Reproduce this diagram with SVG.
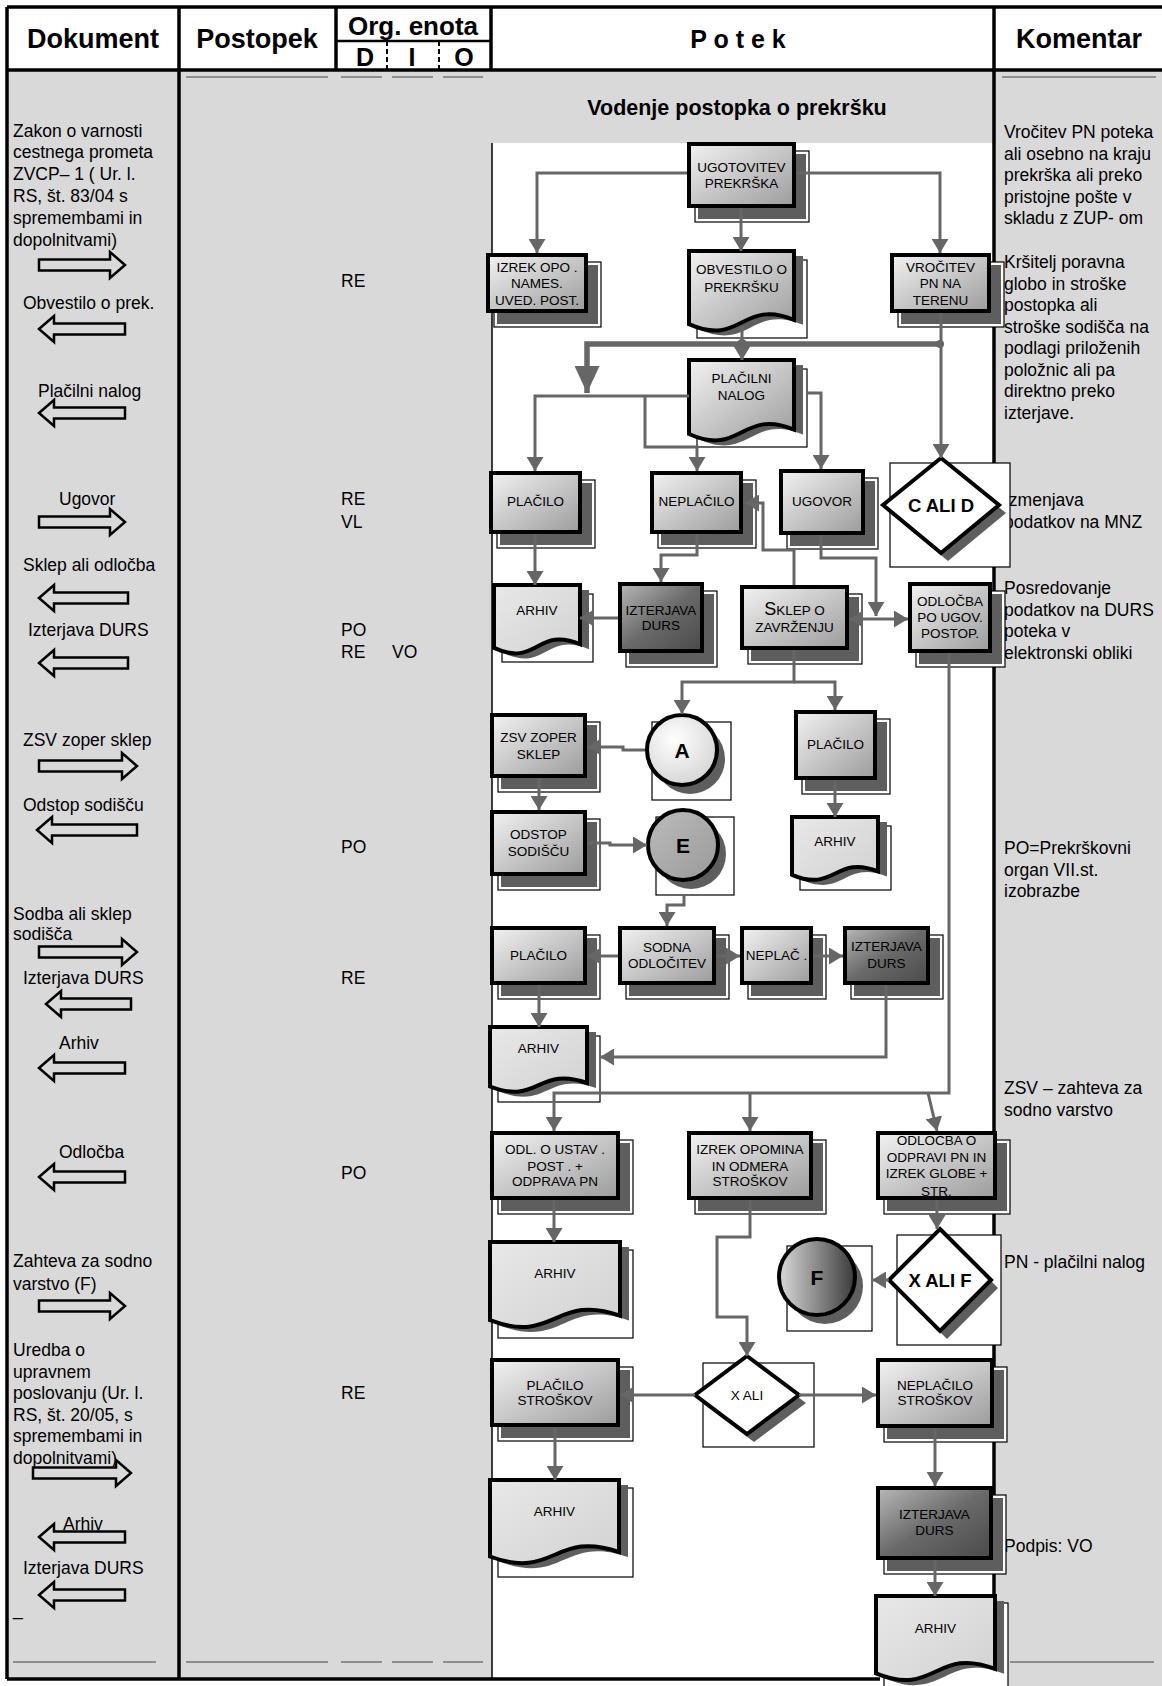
<svg xmlns="http://www.w3.org/2000/svg" width="1162" height="1686" viewBox="0 0 1162 1686">
<defs>
<style>
text{font-family:"Liberation Sans",Arial,sans-serif;fill:#000}
.h{font-size:27px;font-weight:bold;text-anchor:middle}
.t{font-size:17.5px}
.nt{font-size:13.5px;text-anchor:middle}
.nb{font-weight:bold;text-anchor:middle}
.bd{stroke:#000;stroke-width:3.5;fill:none}
.dl{stroke:#444;stroke-width:1.2}
.ha{fill:none;stroke:#000;stroke-width:2.5}
.shf{fill:#fff;stroke:#000;stroke-width:1.2}
.sh{fill:#5e5e5e}
.box{fill:url(#g1);stroke:#000;stroke-width:4}
.dk{fill:url(#g2);stroke:#000;stroke-width:4}
.arh{fill:url(#g3);stroke:#000;stroke-width:4}
.dia{fill:#fff;stroke:#000;stroke-width:4}
.c{fill:none;stroke:#666;stroke-width:3;marker-end:url(#m)}
</style>
<linearGradient id="g1" x1="0" y1="0" x2="1" y2="1"><stop offset="0" stop-color="#f2f2f2"/><stop offset="1" stop-color="#9c9c9c"/></linearGradient>
<linearGradient id="g2" x1="0" y1="0" x2="1" y2="1"><stop offset="0" stop-color="#b8b8b8"/><stop offset="0.5" stop-color="#6a6a6a"/><stop offset="1" stop-color="#4a4a4a"/></linearGradient>
<linearGradient id="g3" x1="0" y1="0" x2="1" y2="1"><stop offset="0" stop-color="#e8e8e8"/><stop offset="1" stop-color="#d2d2d2"/></linearGradient>
<radialGradient id="gA" cx="0.4" cy="0.35" r="0.7"><stop offset="0" stop-color="#ffffff"/><stop offset="1" stop-color="#d4d4d4"/></radialGradient>
<linearGradient id="gE" x1="0" y1="0" x2="1" y2="1"><stop offset="0" stop-color="#bcbcbc"/><stop offset="1" stop-color="#999"/></linearGradient>
<linearGradient id="gF" x1="0" y1="0" x2="1" y2="0"><stop offset="0" stop-color="#dadada"/><stop offset="1" stop-color="#3a3a3a"/></linearGradient>
<marker id="m" viewBox="0 0 14 17" refX="14" refY="8.5" markerWidth="14" markerHeight="17" markerUnits="userSpaceOnUse" orient="auto"><path d="M0,0L14,8.5L0,17Z" fill="#666"/></marker>
<marker id="mb" viewBox="0 0 27 25" refX="27" refY="12.5" markerWidth="27" markerHeight="25" markerUnits="userSpaceOnUse" orient="auto"><path d="M0,0L27,12.5L0,25Z" fill="#666"/></marker>
</defs>

<g id="background">
<rect x="0" y="0" width="1162" height="1686" fill="#fff"/>
<rect x="7" y="70" width="172" height="1609" fill="#d9d9d9"/>
<rect x="179" y="70" width="313" height="1609" fill="#d9d9d9"/>
<rect x="492" y="70" width="502" height="73" fill="#d9d9d9"/>
<rect x="994" y="70" width="168" height="1616" fill="#d9d9d9"/>
<rect x="492" y="143" width="502" height="1536" fill="#fff"/>
<line x1="492" y1="143" x2="492" y2="1679" stroke="#000" stroke-width="1.5"/>
<line class="bd" x1="7" y1="7" x2="1162" y2="7"/>
<line class="bd" x1="7" y1="70" x2="1162" y2="70" stroke-width="3"/>
<line class="bd" x1="7" y1="7" x2="7" y2="1679"/>
<line class="bd" x1="179" y1="7" x2="179" y2="1679"/>
<line class="bd" x1="336" y1="7" x2="336" y2="70"/>
<line class="bd" x1="491" y1="7" x2="491" y2="70"/>
<line class="bd" x1="994" y1="7" x2="994" y2="1600"/>
<line class="bd" x1="7" y1="1679" x2="880" y2="1679"/>
<line x1="336" y1="41" x2="491" y2="41" stroke="#000" stroke-width="2.5"/>
<line x1="387" y1="41" x2="387" y2="70" stroke="#000" stroke-width="2" stroke-dasharray="5 3"/>
<line x1="439" y1="41" x2="439" y2="70" stroke="#000" stroke-width="2" stroke-dasharray="5 3"/>
<line class="dl" x1="186" y1="77" x2="328" y2="77"/>
<line class="dl" x1="341" y1="77" x2="382" y2="77"/>
<line class="dl" x1="392" y1="77" x2="433" y2="77"/>
<line class="dl" x1="443" y1="77" x2="483" y2="77"/>
<line class="dl" x1="1002" y1="77" x2="1156" y2="77"/>
<line class="dl" x1="13" y1="1662" x2="156" y2="1662"/>
<line class="dl" x1="186" y1="1662" x2="328" y2="1662"/>
<line class="dl" x1="341" y1="1662" x2="382" y2="1662"/>
<line class="dl" x1="392" y1="1662" x2="433" y2="1662"/>
<line class="dl" x1="443" y1="1662" x2="483" y2="1662"/>
<line class="dl" x1="1010" y1="1662" x2="1154" y2="1662"/>
</g>

<g id="header">
<text class="h" x="93" y="48">Dokument</text>
<text class="h" x="257" y="48">Postopek</text>
<text class="h" x="413" y="35" style="font-size:26px">Org. enota</text>
<text class="h" x="365" y="66" style="font-size:25px">D</text>
<text class="h" x="412" y="66" style="font-size:25px">I</text>
<text class="h" x="464" y="66" style="font-size:25px">O</text>
<text class="h" x="738" y="48" style="font-size:25px">P o t e k</text>
<text class="h" x="1079" y="48">Komentar</text>
<text class="h" x="737" y="115" style="font-size:21.5px">Vodenje postopka o prekršku</text>
</g>

<g id="dokument-column">
<text class="t" x="13" y="136.5">Zakon o varnosti</text>
<text class="t" x="13" y="158.3">cestnega prometa</text>
<text class="t" x="13" y="180.1">ZVCP– 1 ( Ur. l.</text>
<text class="t" x="13" y="201.9">RS, št. 83/04 s</text>
<text class="t" x="13" y="223.7">spremembami in</text>
<text class="t" x="13" y="245.5">dopolnitvami)</text>
<text class="t" x="23" y="309">Obvestilo o prek.</text>
<text class="t" x="38" y="397">Plačilni nalog</text>
<text class="t" x="59" y="505">Ugovor</text>
<text class="t" x="23" y="571">Sklep ali odločba</text>
<text class="t" x="28" y="636">Izterjava DURS</text>
<text class="t" x="23" y="746">ZSV zoper sklep</text>
<text class="t" x="23" y="811">Odstop sodišču</text>
<text class="t" x="13" y="920">Sodba ali sklep</text>
<text class="t" x="13" y="940">sodišča</text>
<text class="t" x="23" y="984">Izterjava DURS</text>
<text class="t" x="59" y="1049">Arhiv</text>
<text class="t" x="59" y="1158">Odločba</text>
<text class="t" x="13" y="1267">Zahteva za sodno</text>
<text class="t" x="13" y="1290">varstvo (F)</text>
<text class="t" x="13" y="1356">Uredba o</text>
<text class="t" x="13" y="1377.6">upravnem</text>
<text class="t" x="13" y="1399.2">poslovanju (Ur. l.</text>
<text class="t" x="13" y="1420.8">RS, št. 20/05, s</text>
<text class="t" x="13" y="1442.4">spremembami in</text>
<text class="t" x="13" y="1464">dopolnitvami)</text>
<text class="t" x="63" y="1530">Arhiv</text>
<text class="t" x="23" y="1574">Izterjava DURS</text>
<text class="t" x="13" y="1615">_</text>
<path class="ha" d="M39,259.5H110V252L125,265L110,278V270.5H39Z"/>
<path class="ha" d="M39,329L54,316V323.5H125V334.5H54V342Z"/>
<path class="ha" d="M39,413L54,400V407.5H125V418.5H54V426Z"/>
<path class="ha" d="M39,516.5H110V509L125,522L110,535V527.5H39Z"/>
<path class="ha" d="M39,598L54,585V592.5H128V603.5H54V611Z"/>
<path class="ha" d="M39,663L54,650V657.5H128V668.5H54V676Z"/>
<path class="ha" d="M39,760.5H122V753L137,766L122,779V771.5H39Z"/>
<path class="ha" d="M37,830L52,817V824.5H137V835.5H52V843Z"/>
<path class="ha" d="M39,946.5H122V939L137,952L122,965V957.5H39Z"/>
<path class="ha" d="M46,1004L61,991V998.5H131V1009.5H61V1017Z"/>
<path class="ha" d="M39,1068L54,1055V1062.5H125V1073.5H54V1081Z"/>
<path class="ha" d="M39,1177L54,1164V1171.5H125V1182.5H54V1190Z"/>
<path class="ha" d="M39,1300.5H110V1293L125,1306L110,1319V1311.5H39Z"/>
<path class="ha" d="M33,1467.5H116V1460L131,1473L116,1486V1478.5H33Z"/>
<path class="ha" d="M39,1537L54,1524V1531.5H125V1542.5H54V1550Z"/>
<path class="ha" d="M39,1595L54,1582V1589.5H125V1600.5H54V1608Z"/>
</g>

<g id="postopek-column">
<text class="t" x="341" y="287">RE</text>
<text class="t" x="341" y="505">RE</text>
<text class="t" x="341" y="528">VL</text>
<text class="t" x="341" y="636">PO</text>
<text class="t" x="341" y="658">RE</text>
<text class="t" x="392" y="658">VO</text>
<text class="t" x="341" y="853">PO</text>
<text class="t" x="341" y="984">RE</text>
<text class="t" x="341" y="1179">PO</text>
<text class="t" x="341" y="1399">RE</text>
</g>

<g id="komentar-column">
<text class="t" x="1004" y="138">Vročitev PN poteka</text>
<text class="t" x="1004" y="159.5">ali osebno na kraju</text>
<text class="t" x="1004" y="181">prekrška ali preko</text>
<text class="t" x="1004" y="202.5">pristojne pošte v</text>
<text class="t" x="1004" y="224">skladu z ZUP- om</text>
<text class="t" x="1004" y="268">Kršitelj poravna</text>
<text class="t" x="1004" y="289.5">globo in stroške</text>
<text class="t" x="1004" y="311">postopka ali</text>
<text class="t" x="1004" y="332.5">stroške sodišča na</text>
<text class="t" x="1004" y="354">podlagi priloženih</text>
<text class="t" x="1004" y="375.5">položnic ali pa</text>
<text class="t" x="1004" y="397">direktno preko</text>
<text class="t" x="1004" y="418.5">izterjave.</text>
<text class="t" x="1004" y="506">Izmenjava</text>
<text class="t" x="1004" y="527.5">podatkov na MNZ</text>
<text class="t" x="1004" y="594">Posredovanje</text>
<text class="t" x="1004" y="615.5">podatkov na DURS</text>
<text class="t" x="1004" y="637">poteka v</text>
<text class="t" x="1004" y="658.5">elektronski obliki</text>
<text class="t" x="1004" y="854">PO=Prekrškovni</text>
<text class="t" x="1004" y="875.5">organ VII.st.</text>
<text class="t" x="1004" y="897">izobrazbe</text>
<text class="t" x="1004" y="1094">ZSV – zahteva za</text>
<text class="t" x="1004" y="1115.5">sodno varstvo</text>
<text class="t" x="1004" y="1268">PN - plačilni nalog</text>
<text class="t" x="1004" y="1552">Podpis: VO</text>
</g>

<g id="n-ugotovitev"><rect class="shf" x="695" y="151" width="114" height="71"/><rect class="sh" x="698" y="154" width="108" height="65"/><rect class="box" x="689" y="144" width="105" height="62"/><text class="nt" x="741.5" y="172">UGOTOVITEV</text><text class="nt" x="741.5" y="188">PREKRŠKA</text></g>
<g id="n-izrek-opo"><rect class="shf" x="494" y="262" width="107" height="65"/><rect class="sh" x="497" y="265" width="101" height="59"/><rect class="box" x="488" y="255" width="98" height="56"/><text class="nt" x="537" y="272">IZREK OPO .</text><text class="nt" x="537" y="288">NAMES.</text><text class="nt" x="537" y="305">UVED. POST.</text></g>
<g id="n-obvestilo"><rect class="shf" x="697" y="260" width="110" height="78"/><path class="sh" transform="translate(9,5)" d="M689,251H794V319.8C741.5,298.3 741.5,347.3 689,324.1Z"/><path class="box" d="M689,251H794V319.8C741.5,298.3 741.5,347.3 689,324.1Z"/><text class="nt" x="741.5" y="274">OBVESTILO O</text><text class="nt" x="741.5" y="292">PREKRŠKU</text></g>
<g id="n-vrocitev"><rect class="shf" x="898" y="262" width="106" height="65"/><rect class="sh" x="901" y="265" width="100" height="59"/><rect class="box" x="892" y="255" width="97" height="56"/><text class="nt" x="940.5" y="272">VROČITEV</text><text class="nt" x="940.5" y="288">PN NA</text><text class="nt" x="940.5" y="305">TERENU</text></g>
<g id="n-placilni-nalog"><rect class="shf" x="697" y="369" width="110" height="78"/><path class="sh" transform="translate(9,5)" d="M689,360H794V429.6C741.5,407.9 741.5,457.4 689,434Z"/><path class="box" d="M689,360H794V429.6C741.5,407.9 741.5,457.4 689,434Z"/><text class="nt" x="741.5" y="383">PLAČILNI</text><text class="nt" x="741.5" y="400">NALOG</text></g>
<g id="n-placilo-1"><rect class="shf" x="497" y="480" width="98" height="68"/><rect class="sh" x="500" y="483" width="92" height="62"/><rect class="box" x="491" y="473" width="89" height="59"/><text class="nt" x="535.5" y="506">PLAČILO</text></g>
<g id="n-neplacilo-1"><rect class="shf" x="658" y="480" width="98" height="68"/><rect class="sh" x="661" y="483" width="92" height="62"/><rect class="box" x="652" y="473" width="89" height="59"/><text class="nt" x="696.5" y="506">NEPLAČILO</text></g>
<g id="n-ugovor"><rect class="shf" x="787" y="478" width="91" height="71"/><rect class="sh" x="790" y="481" width="85" height="65"/><rect class="box" x="781" y="471" width="82" height="62"/><text class="nt" x="822" y="506">UGOVOR</text></g>
<g id="n-c-ali-d"><rect class="shf" x="890" y="463" width="120" height="104"/><polygon class="sh" points="948,466 1006,513 948,561 890,513"/><polygon class="dia" points="941,458 999,505 941,553 883,505"/><text class="nb" x="941" y="511.5" style="font-size:18.5px">C ALI D</text></g>
<g id="n-arhiv-1"><rect class="shf" x="502" y="594" width="91" height="68"/><path class="sh" transform="translate(9,5)" d="M494,585H580V644.2C537,625.7 537,667.9 494,647.9Z"/><path class="arh" d="M494,585H580V644.2C537,625.7 537,667.9 494,647.9Z"/><text class="nt" x="537" y="615">ARHIV</text></g>
<g id="n-izterjava-1"><rect class="shf" x="626" y="591" width="91" height="76"/><rect class="sh" x="629" y="594" width="85" height="70"/><rect class="dk" x="620" y="584" width="82" height="67"/><text class="nt" x="661" y="615">IZTERJAVA</text><text class="nt" x="661" y="630">DURS</text></g>
<g id="n-sklep"><rect class="shf" x="748" y="594" width="114" height="70"/><rect class="sh" x="751" y="597" width="108" height="64"/><rect class="box" x="742" y="587" width="105" height="61"/><text class="nt" x="794.5" y="615"><tspan font-size="18">S</tspan>KLEP O</text><text class="nt" x="794.5" y="632">ZAVRŽENJU</text></g>
<g id="n-odlocba-ugov"><rect class="shf" x="916" y="591" width="89" height="76"/><rect class="sh" x="919" y="594" width="83" height="70"/><rect class="box" x="910" y="584" width="80" height="67"/><text class="nt" x="950" y="606">ODLOČBA</text><text class="nt" x="950" y="622">PO UGOV.</text><text class="nt" x="950" y="638">POSTOP.</text></g>
<g id="n-zsv"><rect class="shf" x="498" y="722" width="102" height="70"/><rect class="sh" x="501" y="725" width="96" height="64"/><rect class="box" x="492" y="715" width="93" height="61"/><text class="nt" x="538.5" y="742">ZSV ZOPER</text><text class="nt" x="538.5" y="759">SKLEP</text></g>
<g id="n-a"><rect class="shf" x="652" y="722" width="79" height="78"/><circle class="sh" cx="690" cy="759" r="35"/><circle cx="682" cy="750" r="35" fill="url(#gA)" stroke="#000" stroke-width="4"/><text class="nb" x="682" y="757.5" style="font-size:21px">A</text></g>
<g id="n-placilo-2"><rect class="shf" x="802" y="719" width="88" height="75"/><rect class="sh" x="805" y="722" width="82" height="69"/><rect class="box" x="796" y="712" width="79" height="66"/><text class="nt" x="835.5" y="749">PLAČILO</text></g>
<g id="n-odstop"><rect class="shf" x="498" y="819" width="102" height="71"/><rect class="sh" x="501" y="822" width="96" height="65"/><rect class="box" x="492" y="812" width="93" height="62"/><text class="nt" x="538.5" y="839">ODSTOP</text><text class="nt" x="538.5" y="856">SODIŠČU</text></g>
<g id="n-e"><rect class="shf" x="656" y="817" width="78" height="78"/><circle class="sh" cx="691" cy="854" r="35"/><circle cx="683" cy="845" r="35" fill="url(#gE)" stroke="#000" stroke-width="4"/><text class="nb" x="683" y="852.5" style="font-size:21px">E</text></g>
<g id="n-arhiv-2"><rect class="shf" x="800" y="826" width="91" height="64"/><path class="sh" transform="translate(9,5)" d="M792,817H878V871.4C835,854.4 835,893.2 792,874.8Z"/><path class="arh" d="M792,817H878V871.4C835,854.4 835,893.2 792,874.8Z"/><text class="nt" x="835" y="846">ARHIV</text></g>
<g id="n-placilo-3"><rect class="shf" x="498" y="935" width="102" height="64"/><rect class="sh" x="501" y="938" width="96" height="58"/><rect class="box" x="492" y="928" width="93" height="55"/><text class="nt" x="538.5" y="960">PLAČILO</text></g>
<g id="n-sodna"><rect class="shf" x="626" y="935" width="103" height="64"/><rect class="sh" x="629" y="938" width="97" height="58"/><rect class="box" x="620" y="928" width="94" height="55"/><text class="nt" x="667" y="952">SODNA</text><text class="nt" x="667" y="968">ODLOČITEV</text></g>
<g id="n-neplac"><rect class="shf" x="748" y="935" width="78" height="64"/><rect class="sh" x="751" y="938" width="72" height="58"/><rect class="box" x="742" y="928" width="69" height="55"/><text class="nt" x="776.5" y="960">NEPLAČ .</text></g>
<g id="n-izterjava-3"><rect class="shf" x="851" y="935" width="92" height="64"/><rect class="sh" x="854" y="938" width="86" height="58"/><rect class="dk" x="845" y="928" width="83" height="55"/><text class="nt" x="886.5" y="951">IZTERJAVA</text><text class="nt" x="886.5" y="968">DURS</text></g>
<g id="n-arhiv-4"><rect class="shf" x="498" y="1036" width="102" height="66"/><path class="sh" transform="translate(9,5)" d="M490,1027H587V1083C538.5,1065.5 538.5,1105.4 490,1086.5Z"/><path class="arh" d="M490,1027H587V1083C538.5,1065.5 538.5,1105.4 490,1086.5Z"/><text class="nt" x="538.5" y="1053">ARHIV</text></g>
<g id="n-odl-ustav"><rect class="shf" x="498" y="1140" width="135" height="74"/><rect class="sh" x="501" y="1143" width="129" height="68"/><rect class="box" x="492" y="1133" width="126" height="65"/><text class="nt" x="555" y="1154">ODL. O USTAV .</text><text class="nt" x="555" y="1171">POST . +</text><text class="nt" x="555" y="1186">ODPRAVA PN</text></g>
<g id="n-izrek-opomina"><rect class="shf" x="695" y="1140" width="131" height="74"/><rect class="sh" x="698" y="1143" width="125" height="68"/><rect class="box" x="689" y="1133" width="122" height="65"/><text class="nt" x="750" y="1154">IZREK OPOMINA</text><text class="nt" x="750" y="1171">IN ODMERA</text><text class="nt" x="750" y="1186">STROŠKOV</text></g>
<g id="n-odlocba-odpravi"><rect class="shf" x="884" y="1140" width="126" height="74"/><rect class="sh" x="887" y="1143" width="120" height="68"/><rect class="box" x="878" y="1133" width="117" height="65"/><text class="nt" x="936.5" y="1145">ODLOČBA O</text><text class="nt" x="936.5" y="1162">ODPRAVI PN IN</text><text class="nt" x="936.5" y="1178">IZREK GLOBE  +</text><text class="nt" x="936.5" y="1196">STR.</text></g>
<g id="n-arhiv-6"><rect class="shf" x="498" y="1250" width="135" height="88"/><path class="sh" transform="translate(9,5)" d="M490,1242H620V1315.6C555,1292.6 555,1345 490,1320.2Z"/><path class="arh" d="M490,1242H620V1315.6C555,1292.6 555,1345 490,1320.2Z"/><text class="nt" x="555" y="1278">ARHIV</text></g>
<g id="n-f"><rect class="shf" x="787" y="1246" width="85" height="85"/><circle class="sh" cx="825" cy="1286" r="38"/><circle cx="817" cy="1277" r="38" fill="url(#gF)" stroke="#000" stroke-width="4"/><text class="nb" x="817" y="1284.5" style="font-size:21px">F</text></g>
<g id="n-x-ali-f"><rect class="shf" x="897" y="1235" width="104" height="110"/><polygon class="sh" points="947,1237 998,1288 947,1339 896,1288"/><polygon class="dia" points="940,1229 991,1280 940,1331 889,1280"/><text class="nb" x="940" y="1286.5" style="font-size:18.5px">X ALI F</text></g>
<g id="n-placilo-stroskov"><rect class="shf" x="498" y="1367" width="135" height="74"/><rect class="sh" x="501" y="1370" width="129" height="68"/><rect class="box" x="492" y="1360" width="126" height="65"/><text class="nt" x="555" y="1390">PLAČILO</text><text class="nt" x="555" y="1405">STROŠKOV</text></g>
<g id="n-x-ali"><rect class="shf" x="703" y="1363" width="111" height="84"/><polygon class="sh" points="754,1364 806,1403 754,1442 702,1403"/><polygon class="dia" points="747,1356 799,1395 747,1434 695,1395"/><text class="nt" x="747" y="1400">X ALI</text></g>
<g id="n-neplacilo-stroskov"><rect class="shf" x="884" y="1367" width="123" height="75"/><rect class="sh" x="887" y="1370" width="117" height="69"/><rect class="box" x="878" y="1360" width="114" height="66"/><text class="nt" x="935" y="1390">NEPLAČILO</text><text class="nt" x="935" y="1405">STROŠKOV</text></g>
<g id="n-arhiv-8"><rect class="shf" x="498" y="1488" width="135" height="89"/><path class="sh" transform="translate(9,5)" d="M490,1480H619V1552C554.5,1529.5 554.5,1580.8 490,1556.5Z"/><path class="arh" d="M490,1480H619V1552C554.5,1529.5 554.5,1580.8 490,1556.5Z"/><text class="nt" x="554.5" y="1516">ARHIV</text></g>
<g id="n-izterjava-8"><rect class="shf" x="884" y="1495" width="122" height="79"/><rect class="sh" x="887" y="1498" width="116" height="73"/><rect class="dk" x="878" y="1488" width="113" height="70"/><text class="nt" x="934.5" y="1519">IZTERJAVA</text><text class="nt" x="934.5" y="1535">DURS</text></g>
<g id="n-arhiv-9"><rect class="shf" x="884" y="1603" width="124" height="90"/><path class="sh" transform="translate(9,5)" d="M876,1596H995V1668.8C935.5,1646 935.5,1697.9 876,1673.4Z"/><path class="arh" d="M876,1596H995V1668.8C935.5,1646 935.5,1697.9 876,1673.4Z"/><text class="nt" x="935.5" y="1633">ARHIV</text></g>

<g id="connectors">
<path class="c" d="M687,173H537V253"/>
<path class="c" d="M796,173H940V253"/>
<path class="c" d="M741,208V251"/>
<path d="M940,344H587V393" fill="none" stroke="#666" stroke-width="5.5" marker-end="url(#mb)"/>
<circle cx="940" cy="344" r="4" fill="#666"/>
<circle cx="742" cy="344" r="5" fill="#666"/>
<path class="c" d="M941,313V458"/>
<path class="c" d="M742,326V360"/>
<path class="c" d="M689,396H535V471"/>
<path class="c" d="M645,396V447H697V471"/>
<path class="c" d="M807,393H821V469"/>
<path class="c" d="M697,534V555H661V582"/>
<path class="c" d="M535,534V585"/>
<path class="c" d="M821,535V558H876V616"/>
<path class="c" d="M876,619H849"/>
<path class="c" d="M876,619H908"/>
<path class="c" d="M794,585V550H763V503H745"/>
<path class="c" d="M618,618H580"/>
<path class="c" d="M794,650V682H682V714"/>
<path class="c" d="M794,682H835V710"/>
<path class="c" d="M645,750H623V747H587"/>
<path class="c" d="M539,778V810"/>
<path class="c" d="M587,843H610V845H647"/>
<path class="c" d="M684,895V905H667V926"/>
<path class="c" d="M835,780V817"/>
<path class="c" d="M618,956H587"/>
<path class="c" d="M716,956H740"/>
<path class="c" d="M813,956H843"/>
<path class="c" d="M539,985V1027"/>
<path class="c" d="M886,985V1057H600"/>
<path class="c" d="M949,653V1093H554V1131"/>
<path class="c" d="M750,1093V1131"/>
<path class="c" d="M928,1093L937,1131"/>
<path class="c" d="M554,1200V1242"/>
<path class="c" d="M750,1200V1237H717V1317H747V1356"/>
<path class="c" d="M937,1200V1229"/>
<path class="c" d="M889,1280H872"/>
<path class="c" d="M695,1395H620"/>
<path class="c" d="M799,1395H876"/>
<path class="c" d="M555,1427V1480"/>
<path class="c" d="M935,1428V1486"/>
<path class="c" d="M935,1560V1596"/>
</g>
</svg>
